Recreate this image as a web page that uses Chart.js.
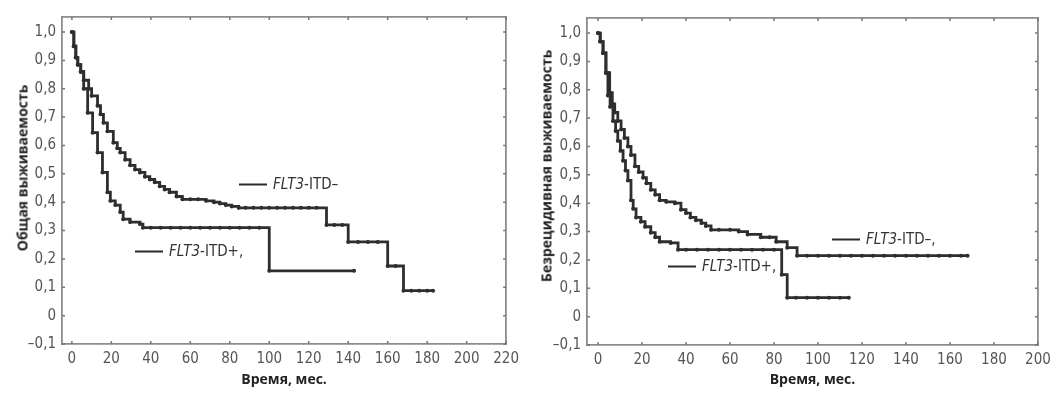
<!DOCTYPE html>
<html><head><meta charset="utf-8">
<script src="https://cdn.jsdelivr.net/npm/chart.js@4.4.1/dist/chart.umd.min.js"></script>
<style>
html,body{margin:0;padding:0;background:#fff;}
body{width:1063px;height:393px;position:relative;overflow:hidden;font-family:"Liberation Sans Narrow","DejaVu Sans Condensed",sans-serif;}
.cw{position:absolute;top:0;height:393px;}
#w1{left:0;width:525px}
#w2{left:525px;width:538px}
.ytitle{position:absolute;font-family:"Open Sans",sans-serif;font-weight:bold;font-size:14px;color:#222;white-space:nowrap;transform:translate(-50%,-50%) rotate(-90deg);}
.leg{position:absolute;font-size:15px;color:#333;white-space:nowrap;line-height:1;transform:translateY(-50%);display:flex;align-items:center;}
.leg .ln{display:inline-block;width:28px;height:2px;background:#2a2a2a;margin-right:6px;}
</style></head>
<body>
<div class="cw" id="w1"><canvas id="c1"></canvas></div>
<div class="cw" id="w2"><canvas id="c2"></canvas></div>
<div class="ytitle" style="left:22px;top:168px;">Общая выживаемость</div>
<div class="ytitle" style="left:546px;top:166px;">Безрецидивная выживаемость</div>
<div class="leg" style="left:239px;top:184px;"><span class="ln"></span><span><i>FLT3</i>-ITD–</span></div>
<div class="leg" style="left:135px;top:251px;"><span class="ln"></span><span><i>FLT3</i>-ITD+,</span></div>
<div class="leg" style="left:668px;top:266px;"><span class="ln"></span><span><i>FLT3</i>-ITD+,</span></div>
<div class="leg" style="left:832px;top:239px;"><span class="ln"></span><span><i>FLT3</i>-ITD–,</span></div>
<script>
// ---- Data ----
// Overall survival, FLT3-ITD−
const osNegTime = [0,1,2,3,4.5,6,8.5,10,13,14.5,16,18,21,23,24.5,27,29.5,32,34.5,37,39.5,42,44.5,47,49.5,53,56,60,64,68,72,75,78,81,84.5,88,92,96,100,104,108,112,116,120,124,129,133,137,140,145,150,155,160,164,168,172,176,180,183];
const osNegSurv = [1.0,0.95,0.91,0.885,0.86,0.83,0.80,0.775,0.74,0.71,0.68,0.65,0.61,0.59,0.575,0.55,0.53,0.515,0.505,0.49,0.48,0.47,0.456,0.445,0.435,0.42,0.41,0.41,0.41,0.405,0.40,0.395,0.39,0.385,0.38,0.38,0.38,0.38,0.38,0.38,0.38,0.38,0.38,0.38,0.38,0.32,0.32,0.32,0.26,0.26,0.26,0.26,0.175,0.175,0.088,0.088,0.088,0.088,0.088];
// Overall survival, FLT3-ITD+
const osPosTime = [0,1,2,3,4.5,6,8,10.5,13,15.5,18,19.5,22,24.5,26,29.5,34.5,36,40,45,50,55,60,65,70,75,80,85,90,95,100,143];
const osPosSurv = [1.0,0.95,0.91,0.885,0.86,0.80,0.715,0.645,0.575,0.505,0.435,0.405,0.39,0.365,0.34,0.33,0.323,0.31,0.31,0.31,0.31,0.31,0.31,0.31,0.31,0.31,0.31,0.31,0.31,0.31,0.158,0.158];
// Relapse-free survival, FLT3-ITD−
const rfsNegTime = [0,1,2.3,3.6,5.3,6.5,7.6,9,10.5,12,13.6,15,16.8,18.5,20.5,22,24,26,28,31,35,37.7,40,42,44.5,47,49,51.4,55,60,64,68,74,78,81,86,90.5,95,100,105,110,115,120,125,130,135,140,145,150,155,160,165,168];
const rfsNegSurv = [1.0,0.97,0.93,0.86,0.79,0.75,0.72,0.69,0.66,0.63,0.60,0.57,0.53,0.51,0.49,0.47,0.447,0.43,0.41,0.405,0.40,0.377,0.365,0.35,0.34,0.33,0.32,0.306,0.306,0.306,0.30,0.29,0.28,0.28,0.264,0.243,0.215,0.215,0.215,0.215,0.215,0.215,0.215,0.215,0.215,0.215,0.215,0.215,0.215,0.215,0.215,0.215,0.215];
// Relapse-free survival, FLT3-ITD+
const rfsPosTime = [0,1,2.3,3.6,4.5,5.5,6.8,8,9,10.2,11.4,12.5,13.6,15,16,17.3,19.5,21.4,24,26,28,33,36.4,40,45,50,55,60,65,70,75,80,83.5,86,90,95,100,105,110,114];
const rfsPosSurv = [1.0,0.97,0.93,0.86,0.78,0.74,0.69,0.655,0.62,0.585,0.55,0.515,0.48,0.41,0.38,0.35,0.335,0.317,0.296,0.28,0.264,0.26,0.236,0.236,0.236,0.236,0.236,0.236,0.236,0.236,0.236,0.236,0.148,0.067,0.067,0.067,0.067,0.067,0.067,0.067];
// Tick labels
const yTickValues = [-0.1,0,0.1,0.2,0.3,0.4,0.5,0.6,0.7,0.8,0.9,1.0];
const yTickLabels = ['–0,1','0','0,1','0,2','0,3','0,4','0,5','0,6','0,7','0,8','0,9','1,0'];
const xTicksOS = [0,20,40,60,80,100,120,140,160,180,200,220];
const xTicksRFS = [0,20,40,60,80,100,120,140,160,180,200];
const xTitle = 'Время, мес.';

const LINE = '#2e2e2e';
const FRAME = '#8c8c8c';

const toPts = (t, s) => t.map((v, i) => ({x: v, y: s[i]}));

const tickMarks = {
  id: 'tickMarks',
  afterDatasetsDraw(chart) {
    const {ctx, chartArea: a, scales} = chart;
    ctx.save();
    ctx.strokeStyle = '#777';
    ctx.lineWidth = 1.5;
    ctx.beginPath();
    scales.x.ticks.forEach(t => {
      const px = scales.x.getPixelForValue(t.value);
      ctx.moveTo(px, a.bottom); ctx.lineTo(px, a.bottom - 3);
      ctx.moveTo(px, a.top); ctx.lineTo(px, a.top + 3);
    });
    scales.y.ticks.forEach(t => {
      const py = scales.y.getPixelForValue(t.value);
      ctx.moveTo(a.left, py); ctx.lineTo(a.left + 3, py);
      ctx.moveTo(a.right, py); ctx.lineTo(a.right - 3, py);
    });
    ctx.stroke();
    ctx.restore();
  }
};

function ds(t, s) {
  return {
    data: toPts(t, s),
    stepped: 'before',
    borderColor: LINE,
    borderWidth: 2.8,
    pointRadius: 2,
    pointBackgroundColor: LINE,
    pointBorderWidth: 0,
    fill: false
  };
}

function makeChart(id, sets, xTicks, xMax, pad, xH) {
  const tickFont = {family: '"Liberation Sans Narrow","DejaVu Sans Condensed",sans-serif', size: 15};
  return new Chart(document.getElementById(id), {
    type: 'line',
    data: {datasets: sets},
    plugins: [tickMarks],
    options: {
      responsive: true,
      maintainAspectRatio: false,
      animation: false,
      events: [],
      layout: {padding: pad},
      plugins: {legend: {display: false}, tooltip: {enabled: false}},
      scales: {
        x: {
          type: 'linear', min: -5, max: xMax,
          afterBuildTicks: s => { s.ticks = xTicks.map(v => ({value: v})); },
          afterFit: s => { s.height = xH; },
          ticks: {color: '#555', font: tickFont, padding: 6, maxRotation: 0, autoSkip: false, callback: (v, i) => String(xTicks[i])},
          grid: {display: true, drawOnChartArea: false, drawTicks: false},
          border: {display: true, color: FRAME, width: 1.8},
          title: {display: true, text: xTitle, color: '#222', font: {family: '"Open Sans",sans-serif', size: 14, weight: 'bold'}, padding: {top: 0, bottom: 5}}
        },
        x2: {
          type: 'linear', position: 'top', min: -5, max: xMax,
          afterFit: s => { s.height = 0; },
          ticks: {display: false},
          grid: {display: true, drawOnChartArea: false, drawTicks: false},
          border: {display: true, color: FRAME, width: 1.8}
        },
        y: {
          type: 'linear', min: -0.1, max: 1.053,
          afterBuildTicks: s => { s.ticks = yTickValues.map(v => ({value: v})); },
          afterFit: s => { s.width = 62; },
          ticks: {color: '#555', font: tickFont, padding: 6, autoSkip: false, callback: (v, i) => yTickLabels[i]},
          grid: {display: true, drawOnChartArea: false, drawTicks: false},
          border: {display: true, color: FRAME, width: 1.8}
        },
        y2: {
          type: 'linear', position: 'right', min: -0.1, max: 1.053,
          afterFit: s => { s.width = 0; },
          ticks: {display: false},
          grid: {display: true, drawOnChartArea: false, drawTicks: false},
          border: {display: true, color: FRAME, width: 1.8}
        }
      }
    }
  });
}

makeChart('c1', [ds(osNegTime, osNegSurv), ds(osPosTime, osPosSurv)], xTicksOS, 220, {top: 17, right: 14, left: 0, bottom: 0}, 49);
makeChart('c2', [ds(rfsNegTime, rfsNegSurv), ds(rfsPosTime, rfsPosSurv)], xTicksRFS, 200, {top: 18, right: 25, left: 0, bottom: 0}, 48);
</script>
</body></html>
